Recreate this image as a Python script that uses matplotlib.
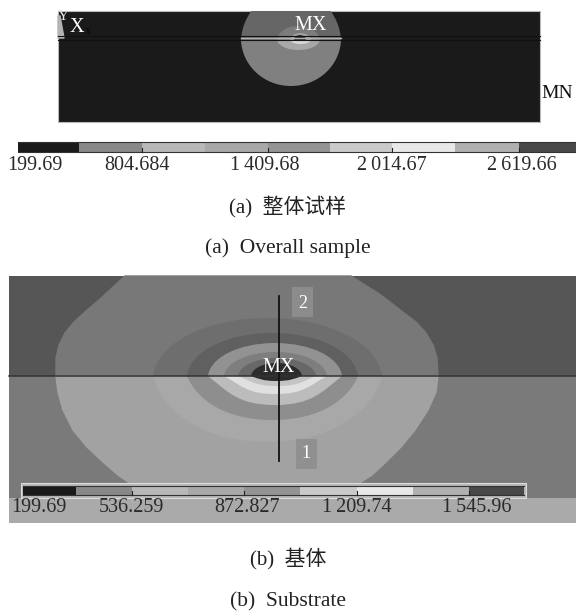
import matplotlib
matplotlib.use('Agg')
import matplotlib.pyplot as plt
from matplotlib.path import Path
from matplotlib.patches import PathPatch, Rectangle

SERIF = ['Liberation Serif', 'Noto Sans CJK SC']

# colour bars
bar_a_labels = ['199.69', '804.684', '1\u2009409.68', '2\u2009014.67', '2\u2009619.66']
bar_b_labels = ['199.69', '536.259', '872.827', '1\u2009209.74', '1\u2009545.96']
bar_colors = ['#1a1a1a', '#888888', '#b8b8b8', '#a8a8a8', '#949494',
              '#cacaca', '#e8e8e8', '#b0b0b0', '#484848']
bar_a_edges = [18, 79, 142, 205, 268, 330, 392, 455, 519, 577]
bar_b_edges = [23, 76, 132, 188, 244, 300, 357, 413, 469, 524]
bar_a_label_x = [35, 137, 265, 392, 522]
bar_b_label_x = [39, 131, 247, 357, 477]

# contour zones of panel (a): left, right, top, bottom, pointedness, upper colour, lower colour
zones_a = [
    (241, 341, -9, 86, 0.02, '#666666', '#808080'),
    (277, 320, 26, 50, 0.05, '#7c7c7c', '#a8a8a8'),
    (290, 311, 33, 44, 0.05, '#a0a0a0', '#d8d8d8'),
    (294, 306, 35, 41, 0.05, '#303030', '#303030'),
]
# contour zones of panel (b)
zones_b = [
    (153, 382, 318, 442, 0.08, '#6e6e6e', '#a8a8a8'),
    (187, 358, 333, 420, 0.12, '#606060', '#8e8e8e'),
    (208, 342, 343, 405, 0.3, '#929292', '#bcbcbc'),
    (224, 327, 352, 394, 0.35, '#7e7e7e', '#e0e0e0'),
    (238, 316, 358, 386, 0.35, '#686868', '#c4c4c4'),
    (251, 302, 363, 381, 0.3, '#2c2c2c', '#2c2c2c'),
]
# outer contour of panel (b)
outer_upper_x = [125, 112, 99, 86, 74, 65, 59, 56, 56, 438, 437, 433, 426, 416, 404, 390, 378, 365, 351]
outer_upper_y = [276, 288, 300, 311, 322, 333, 345, 358, 376, 376, 358, 345, 333, 322, 313, 302, 293, 285, 276]
outer_lower_x = [56, 58, 63, 73, 87, 103, 118, 131, 358, 372, 386, 401, 415, 428, 436, 438]
outer_lower_y = [376, 392, 410, 430, 447, 462, 475, 484, 484, 475, 462, 447, 430, 410, 392, 376]

fig = plt.figure(figsize=(5.76, 6.12), dpi=100)
ax = fig.add_axes([0, 0, 1, 1])
ax.set_xlim(0, 576)
ax.set_ylim(612, 0)
ax.axis('off')


def halves(zone, mid, clip):
    # one contour zone: upper half and lower half meeting on the interface line
    left, right, top, bottom, k, c_up, c_low = zone
    cx = (left + right) / 2
    w = (right - left) / 2
    up = [(left, mid), (left + 0.03 * w, mid + 0.55 * (top - mid)), (cx - 0.55 * w, top), (cx, top),
          (cx + 0.55 * w, top), (right - 0.03 * w, mid + 0.55 * (top - mid)), (right, mid)]
    low = [(left, mid), (left + k * w, mid + 0.55 * (bottom - mid)), (cx - 0.55 * w, bottom), (cx, bottom),
           (cx + 0.55 * w, bottom), (right - k * w, mid + 0.55 * (bottom - mid)), (right, mid)]
    codes = [Path.MOVETO] + [Path.CURVE4] * 6
    for pts, col in ((up, c_up), (low, c_low)):
        p = PathPatch(Path(pts, codes), facecolor=col, edgecolor='none', zorder=2)
        ax.add_patch(p)
        p.set_clip_path(clip)


def colorbar(edges, y0, y1):
    for i in range(len(bar_colors)):
        ax.add_patch(Rectangle((edges[i], y0), edges[i + 1] - edges[i], y1 - y0,
                               facecolor=bar_colors[i], edgecolor='none', zorder=4))
    ax.plot([edges[0], edges[-1]], [y0, y0], color='#333333', lw=0.8, zorder=5)
    ax.plot([edges[0], edges[-1]], [y1, y1], color='#333333', lw=0.8, zorder=5)
    for i in [2, 4, 6, 8]:
        ax.plot([edges[i], edges[i]], [y1 - 4, y1], color='#222222', lw=0.8, zorder=5)


# panel (a)
clip_a = Rectangle((58, 11), 482, 111, facecolor='#1a1a1a', edgecolor='#b8b8b8', lw=0.8, zorder=1)
ax.add_patch(clip_a)
for z in zones_a:
    halves(z, 40, clip_a)
ax.fill([58, 60, 64, 58], [16, 16, 38, 38], color='#b4b4b4', zorder=3)
ax.plot([58, 540], [36, 36], color='#111111', lw=0.8, zorder=3)
ax.plot([58, 540], [39.5, 39.5], color='#111111', lw=0.8, zorder=3)
ax.plot([241, 341], [37.8, 37.8], color='#b0b0b0', lw=1.0, zorder=3)
ax.text(63, 17, 'Y', color='#e8e8e8', family=SERIF, fontsize=11, ha='center', va='center', zorder=6)
ax.text(77, 27, 'X', color='white', family=SERIF, fontsize=14.5, ha='center', va='center', zorder=6)
ax.text(88, 31, 'x', color='#050505', family=SERIF, fontsize=9, ha='center', va='center', zorder=6)
ax.text(311, 25, 'MX', color='white', family=SERIF, fontsize=14.5, ha='center', va='center', zorder=6)
ax.text(557, 93, 'MN', color='#111111', family=SERIF, fontsize=14, ha='center', va='center', zorder=6)

colorbar(bar_a_edges, 142, 152)
for x, t in zip(bar_a_label_x, bar_a_labels):
    ax.text(x, 165, t, color='#2a2a2a', family=SERIF, fontsize=14.5, ha='center', va='center')

ax.text(288, 206, '(a)  整体试样', color='#222222', family=SERIF, fontsize=15, ha='center', va='center')
ax.text(288, 248, '(a)  Overall sample', color='#222222', family=SERIF, fontsize=15.5, ha='center', va='center')

# panel (b)
clip_b = Rectangle((9, 276), 567, 247, facecolor='#7a7a7a', edgecolor='none', zorder=1)
ax.add_patch(clip_b)
ax.add_patch(Rectangle((9, 276), 567, 100, facecolor='#565656', edgecolor='none', zorder=1))
ax.fill(outer_upper_x, outer_upper_y, color='#787878', zorder=1.5)
ax.fill(outer_lower_x, outer_lower_y, color='#a2a2a2', zorder=1.5)
for z in zones_b:
    halves(z, 376, clip_b)
ax.plot([9, 576], [376, 376], color='#333333', lw=1.1, zorder=3)

ax.add_patch(Rectangle((292, 287), 21, 30, facecolor='#8c8c8c', edgecolor='none', zorder=3))
ax.add_patch(Rectangle((296, 439), 21, 30, facecolor='#909090', edgecolor='none', zorder=3))
ax.text(302.5, 303, '2', color='white', family=SERIF, fontsize=13, ha='center', va='center', zorder=6)
ax.text(306, 454, '1', color='white', family=SERIF, fontsize=13, ha='center', va='center', zorder=6)
ax.plot([279, 279], [296, 461], color='#111111', lw=1.3, zorder=5)
ax.text(279, 368, 'MX', color='white', family=SERIF, fontsize=14.5, ha='center', va='center', zorder=6)

ax.add_patch(Rectangle((9, 497.5), 567, 25.5, facecolor='#aaaaaa', edgecolor='none', zorder=3))
ax.add_patch(Rectangle((21, 483), 505, 15, facecolor='#b8b8b8', edgecolor='#dcdcdc', lw=0.8, zorder=3))
colorbar(bar_b_edges, 486, 495)
for x, t in zip(bar_b_label_x, bar_b_labels):
    ax.text(x, 508, t, color='#2a2a2a', family=SERIF, fontsize=14.5, ha='center', va='center', zorder=6)

ax.text(288, 559, '(b)  基体', color='#222222', family=SERIF, fontsize=15, ha='center', va='center')
ax.text(288, 602, '(b)  Substrate', color='#222222', family=SERIF, fontsize=15.5, ha='center', va='center')

fig.savefig('out.png', dpi=100)
